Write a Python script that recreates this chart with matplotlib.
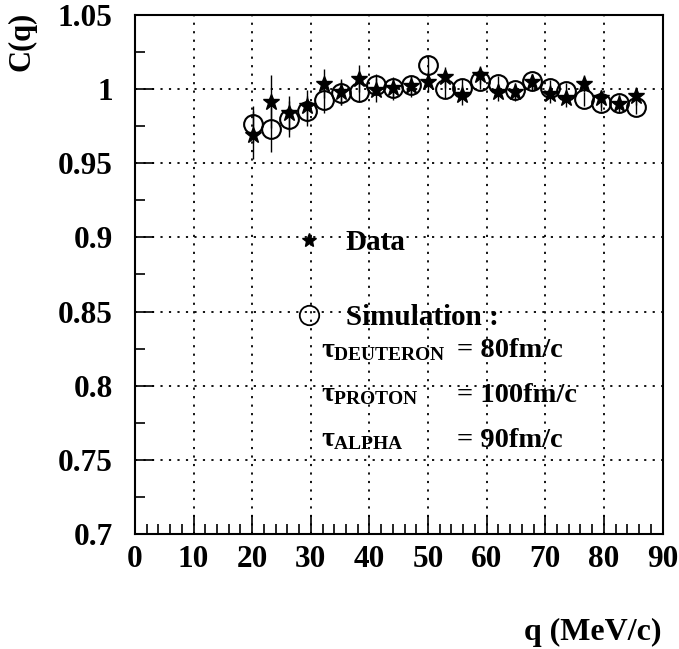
import numpy as np
import matplotlib
matplotlib.use("Agg")
import matplotlib.pyplot as plt
from matplotlib.lines import Line2D
from matplotlib.ticker import MultipleLocator

plt.rcParams['font.family'] = ['Liberation Serif', 'DejaVu Serif']
plt.rcParams['font.weight'] = 'bold'
plt.rcParams['mathtext.fontset'] = 'custom'
plt.rcParams['mathtext.rm'] = 'Liberation Serif:bold'
plt.rcParams['mathtext.it'] = 'Liberation Serif:bold'
plt.rcParams['mathtext.bf'] = 'Liberation Serif:bold'

# q values (MeV/c)
q = [20.2, 23.2, 26.3, 29.3, 32.2, 35.2, 38.2, 41.1, 44.1, 47.1, 50.0, 52.9,
     55.8, 58.8, 61.9, 64.9, 67.8, 70.8, 73.6, 76.6, 79.5, 82.5, 85.5]

# measured correlation function
data_c = [0.969, 0.9915, 0.9836, 0.9886, 1.0038, 0.998, 1.007, 0.9993, 1.0005,
          1.002, 1.005, 1.008, 0.996, 1.0094, 0.9978, 0.998, 1.0045, 0.9966,
          0.9937, 1.0038, 0.9937, 0.990, 0.9953]
data_err = [0.016, 0.018, 0.012, 0.011, 0.010, 0.009, 0.009, 0.008, 0.008,
            0.007, 0.007, 0.007, 0.007, 0.006, 0.006, 0.006, 0.006, 0.006,
            0.006, 0.006, 0.006, 0.006, 0.006]

# simulation
sim_c = [0.9764, 0.9729, 0.980, 0.9854, 0.993, 0.9975, 0.998, 1.003, 1.001,
         1.003, 1.016, 1.000, 1.001, 1.0054, 1.0038, 0.9993, 1.0054, 1.001,
         0.9989, 0.9933, 0.9904, 0.9908, 0.988]
sim_err = [0.012, 0.015, 0.012, 0.010, 0.009, 0.008, 0.007, 0.007, 0.006,
           0.006, 0.006, 0.006, 0.006, 0.005, 0.005, 0.005, 0.005, 0.005,
           0.005, 0.005, 0.005, 0.005, 0.005]

tau_names = ['DEUTERON', 'PROTON', 'ALPHA']
tau_values = ['= 80fm/c', '= 100fm/c', '= 90fm/c']

fig = plt.figure(figsize=(6.79, 6.49), dpi=100)
ax = fig.add_axes([0.1988, 0.1772, 0.7769, 0.7997])

ax.errorbar(q, sim_c, yerr=sim_err, fmt='none', ecolor='black', elinewidth=1.0, zorder=2)
ax.plot(q, sim_c, 'o', ms=13.5, mfc='none', mec='black', mew=1.5, zorder=3)
ax.errorbar(q, data_c, yerr=data_err, fmt='none', ecolor='black', elinewidth=1.0, zorder=4)
ax.plot(q, data_c, '*', ms=12, color='black', zorder=5)

ax.set_xlim(0, 90)
ax.set_ylim(0.7, 1.05)
ax.xaxis.set_major_locator(MultipleLocator(10))
ax.xaxis.set_minor_locator(MultipleLocator(2))
ax.yaxis.set_minor_locator(MultipleLocator(0.025))
ax.set_yticks(np.arange(0.7, 1.051, 0.05))
ax.set_yticklabels(['0.7', '0.75', '0.8', '0.85', '0.9', '0.95', '1', '1.05'])

ax.tick_params(which='both', direction='in', top=False, right=False, width=1.2)
ax.tick_params(which='major', length=14, labelsize=22.5)
ax.tick_params(which='minor', length=7)
ax.tick_params(axis='x', which='major', pad=8)
ax.tick_params(axis='y', which='major', pad=16)
for lab in ax.get_xticklabels() + ax.get_yticklabels():
    lab.set_fontweight('bold')

ax.grid(True, which='major', color='black', linestyle=(0, (1.2, 3.5)), linewidth=1.3)
for s in ax.spines.values():
    s.set_linewidth(1.5)

# legend
h_data = Line2D([], [], marker='*', ms=10, color='black', linestyle='none')
h_sim = Line2D([], [], marker='o', ms=14, mfc='none', mec='black', mew=1.3, linestyle='none')
leg = ax.legend([h_data, h_sim], ['Data', 'Simulation :'], loc='upper left',
                bbox_to_anchor=(0.303, 0.588), frameon=False, fontsize=21,
                handlelength=1.0, handletextpad=0.75, labelspacing=1.65,
                borderpad=0, borderaxespad=0)
for t in leg.get_texts():
    t.set_fontweight('bold')

tau_y = [0.8196, 0.7893, 0.7590]
for name, val, yy in zip(tau_names, tau_values, tau_y):
    ax.text(31.7, yy, r'$\tau_{\rm %s}$' % name, fontsize=20, ha='left', va='baseline')
    ax.text(54.9, yy, val, fontsize=20.5, fontweight='bold', ha='left', va='baseline')

fig.text(22 / 679, 1 - 12 / 649, 'C(q)', rotation=90, fontsize=22, fontweight='bold',
         ha='center', va='top')
fig.text(661 / 679, 1 - 632 / 649, 'q (MeV/c)', fontsize=23, fontweight='bold',
         ha='right', va='center')

fig.savefig('out.png', dpi=100)
